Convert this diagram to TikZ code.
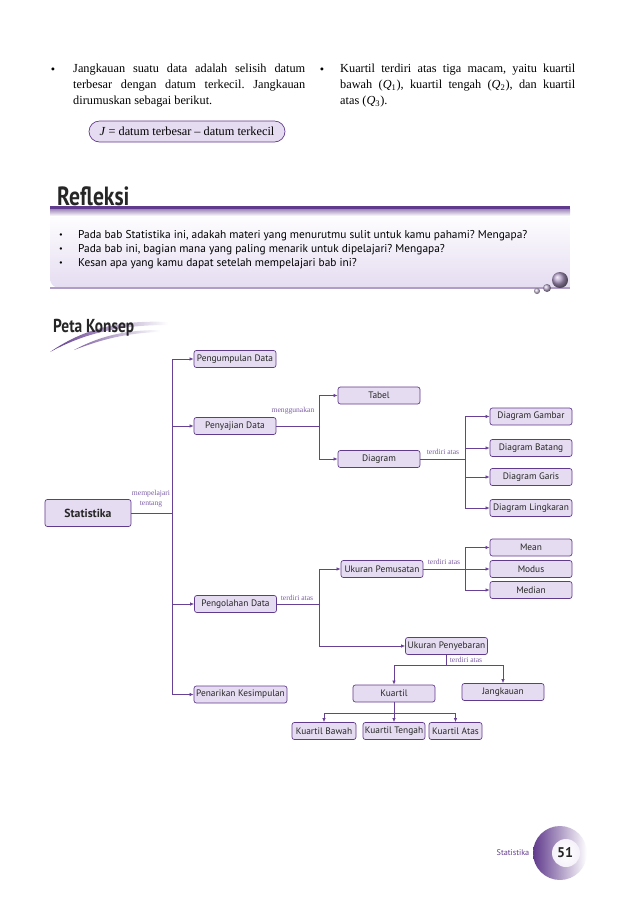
\documentclass[tikz,border=0pt]{standalone}
\usepackage{fontspec}
\setmainfont{Liberation Serif}
\setsansfont{PT Sans}
\newfontfamily\judulfont{PT Sans}[FakeStretch=0.82]
\usetikzlibrary{arrows.meta}
\definecolor{petaungu}{RGB}{96,58,140}
\definecolor{petalilac}{RGB}{229,220,241}
\definecolor{petalabel}{RGB}{125,95,165}
\definecolor{petagaris}{RGB}{104,64,150}
\frenchspacing
\tikzset{
  konsep/.style={draw=petaungu,fill=petalilac,rounded corners=2pt,line width=0.6pt,minimum width=2.46cm,minimum height=0.51cm,inner sep=1pt,text=black!85,font=\sffamily\fontsize{8}{9.5}\selectfont},
  garis/.style={petagaris,line width=0.6pt},
  panah/.style={garis,-{Latex[length=3.5pt,width=3pt]}},
  ket/.style={text=petalabel,font=\fontsize{6.5}{8.5}\selectfont,inner sep=0pt,align=center},
  badan/.style={font=\fontsize{10.5}{13.66}\selectfont,align=justify,anchor=north west,inner sep=0pt},
  refl/.style={font=\sffamily\fontsize{9.7}{11}\selectfont,anchor=west,inner sep=0pt}
}
\begin{document}
\begin{tikzpicture}[x=0.03cm,y=-0.03cm]
  \useasboundingbox (0,0) rectangle (638,912);
  \node[font=\fontsize{10.5}{12}\selectfont] (titik1) at (53,71) {\textbullet};
  \node[badan,text width=6.96cm] (teksjangkauan) at (73,64) {Jangkauan suatu data adalah selisih datum\linebreak terbesar dengan datum terkecil. Jangkauan\linebreak dirumuskan sebagai berikut.};
  \node[draw=petaungu,fill=petalilac,rounded corners=9pt,line width=0.6pt,minimum width=5.88cm,minimum height=0.63cm,font=\fontsize{10.5}{12}\selectfont] (rumus) at (187,131.5) {\textit{J} = datum terbesar -- datum terkecil};
  \node[font=\fontsize{10.5}{12}\selectfont] (titik2) at (322,71) {\textbullet};
  \node[badan,text width=7.05cm] (tekskuartil) at (340,64) {Kuartil terdiri atas tiga macam, yaitu kuartil\linebreak bawah (\textit{Q}\textsubscript{1}), kuartil tengah (\textit{Q}\textsubscript{2}), dan kuartil\linebreak atas (\textit{Q}\textsubscript{3}).};

  \shade[top color=white,bottom color=petalilac] (50,212) [rounded corners=8pt] -- (50,288) [sharp corners] -- (570,288) -- (570,212) -- cycle;
  \fill[petaungu] (50,206) rectangle (570,209);
  \shade[top color=petaungu!60,bottom color=white] (50,209) rectangle (570,216);
  \fill[petaungu!50] (50,287) rectangle (570,289);
  \shade[ball color=petaungu!50] (560,280) circle (0.24cm);
  \shade[ball color=petaungu!40] (547,288) circle (0.12cm);
  \shade[ball color=petaungu!30] (537,291) circle (0.09cm);
  \node[font=\judulfont\bfseries\fontsize{22.5}{25}\selectfont,text=black!85,anchor=base west,inner sep=0pt] (refleksi) at (57,205) {Refleksi};
  \node[font=\sffamily\fontsize{7}{9}\selectfont] (rb1) at (61,236) {\textbullet};
  \node[font=\sffamily\fontsize{7}{9}\selectfont] (rb2) at (61,250) {\textbullet};
  \node[font=\sffamily\fontsize{7}{9}\selectfont] (rb3) at (61,264) {\textbullet};
  \node[refl] (rt1) at (78,236) {Pada bab Statistika ini, adakah materi yang menurutmu sulit untuk kamu pahami? Mengapa?};
  \node[refl] (rt2) at (78,250) {Pada bab ini, bagian mana yang paling menarik untuk dipelajari? Mengapa?};
  \node[refl] (rt3) at (78,264) {Kesan apa yang kamu dapat setelah mempelajari bab ini?};

  \shade[left color=petaungu,right color=white] (50,352) .. controls (85,328) and (120,320) .. (168,322) -- (168,325) .. controls (120,325) and (85,333) .. (50,352);
  \shade[left color=petaungu!80,right color=white] (74,350) .. controls (100,336) and (125,330) .. (160,330) -- (160,332) .. controls (125,333) and (100,340) .. (74,350);
  \node[font=\judulfont\bfseries\fontsize{16}{19}\selectfont,text=black!85,anchor=base west,inner sep=0pt] (peta) at (53,332) {Peta Konsep};

  \node[konsep,minimum width=2.58cm,minimum height=0.81cm,font=\sffamily\bfseries\fontsize{10}{12}\selectfont] (stat) at (88,513) {Statistika};
  \node[konsep] (kumpul) at (235,359) {Pengumpulan Data};
  \node[konsep] (saji) at (235,426) {Penyajian Data};
  \node[konsep] (olah) at (235.5,604) {Pengolahan Data};
  \node[konsep,minimum width=2.79cm] (tarik) at (240.5,694.5) {Penarikan Kesimpulan};
  \node[konsep] (tabel) at (379,395.5) {Tabel};
  \node[konsep] (diagram) at (379,459) {Diagram};
  \node[konsep] (gambar) at (531,416.5) {Diagram Gambar};
  \node[konsep] (batang) at (531,448) {Diagram Batang};
  \node[konsep] (gar) at (531,477) {Diagram Garis};
  \node[konsep] (lingkaran) at (531,508) {Diagram Lingkaran};
  \node[konsep] (pemusatan) at (382,569) {Ukuran Pemusatan};
  \node[konsep] (mean) at (531,547.5) {Mean};
  \node[konsep] (modus) at (531,569) {Modus};
  \node[konsep] (median) at (531,590) {Median};
  \node[konsep] (penyebaran) at (446.5,646) {Ukuran Penyebaran};
  \node[konsep] (kuartil) at (394,693.5) {Kuartil};
  \node[konsep] (jangkauan) at (503,692) {Jangkauan};
  \node[konsep,minimum width=1.92cm] (bawah) at (324,731) {Kuartil Bawah};
  \node[konsep,minimum width=1.86cm] (tengah) at (394,731) {Kuartil Tengah};
  \node[konsep,minimum width=1.59cm] (atas) at (455.5,731) {Kuartil Atas};

  \node[ket] (lbpelajari) at (151,499) {mempelajari\\tentang};
  \node[ket] (lbguna) at (293,411) {menggunakan};
  \node[ket] (lbdiagram) at (443,452) {terdiri atas};
  \node[ket] (lbolah) at (297,598) {terdiri atas};
  \node[ket] (lbpusat) at (444,562) {terdiri atas};
  \node[ket] (lbsebar) at (466,660) {terdiri atas};

  \coordinate (pokok) at (172,513);
  \draw[garis] (stat) -- (pokok);
  \foreach \n in {kumpul,saji,olah,tarik} \draw[panah] (pokok) |- (\n.west);
  \coordinate (cabsaji) at (319,426);
  \draw[garis] (saji) -- (cabsaji);
  \foreach \n in {tabel,diagram} \draw[panah] (cabsaji) |- (\n.west);
  \coordinate (cabdiagram) at (465,459);
  \draw[garis] (diagram) -- (cabdiagram);
  \foreach \n in {gambar,batang,gar,lingkaran} \draw[panah] (cabdiagram) |- (\n.west);
  \coordinate (cabolah) at (319,604);
  \draw[garis] (olah) -- (cabolah);
  \foreach \n in {pemusatan,penyebaran} \draw[panah] (cabolah) |- (\n.west);
  \coordinate (cabpusat) at (465,569);
  \draw[garis] (pemusatan) -- (cabpusat);
  \foreach \n in {mean,modus,median} \draw[panah] (cabpusat) |- (\n.west);
  \coordinate (cabsebar) at (446.5,665);
  \draw[garis] (penyebaran) -- (cabsebar);
  \foreach \n in {kuartil,jangkauan} \draw[panah] (cabsebar) -| (\n.north);
  \coordinate (cabkuartil) at (394,713);
  \draw[garis] (kuartil) -- (cabkuartil);
  \foreach \n in {bawah,tengah,atas} \draw[panah] (cabkuartil) -| (\n.north);

  \shade[left color=petaungu,right color=white] (560,853) circle (0.81cm);
  \shade[inner color=white,outer color=white!60!petalilac] (566,853) circle (0.42cm);
  \node[font=\sffamily\bfseries\fontsize{12}{14}\selectfont,text=black!85] (halaman) at (565,853) {51};
  \node[font=\sffamily\fontsize{7}{9}\selectfont,text=petaungu] (kaki) at (513,853) {Statistika};
\end{tikzpicture}
\end{document}
